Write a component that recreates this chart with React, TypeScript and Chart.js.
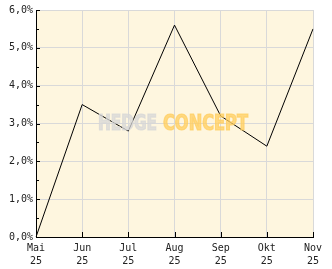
import React, { useEffect, useRef } from "react";
import { Chart, registerables } from "chart.js";

Chart.register(...registerables);

const months = ["Mai", "Jun", "Jul", "Aug", "Sep", "Okt", "Nov"];
const years = ["25", "25", "25", "25", "25", "25", "25"];
const values = [0.0, 3.5, 2.8, 5.6, 3.2, 2.4, 5.5];
const yMin = 0;
const yMax = 6;
const yStep = 1;
const minorStep = 0.5;

const FONT = '"DejaVu Sans Mono", monospace';

const decorPlugin = {
  id: "decor",
  beforeDraw(chart: any) {
    const { ctx, chartArea } = chart;
    ctx.save();
    ctx.fillStyle = "#ffffff";
    ctx.fillRect(0, 0, chart.width, chart.height);
    ctx.fillStyle = "#fef6df";
    ctx.fillRect(chartArea.left, chartArea.top, chartArea.right - chartArea.left, chartArea.bottom - chartArea.top);
    ctx.restore();
  },
  afterDraw(chart: any) {
    const { ctx, chartArea, scales } = chart;
    const xs = scales.x;
    const ys = scales.y;
    ctx.save();
    // watermark
    const baseY = 130;
    const drawFit = (text: string, x0: number, x1: number, color: string) => {
      ctx.font = 'bold 21px "DejaVu Sans Condensed", "DejaVu Sans", sans-serif';
      const w = ctx.measureText(text).width;
      ctx.save();
      ctx.translate(x0, baseY);
      ctx.scale((x1 - x0) / w, 1);
      ctx.fillStyle = color;
      ctx.strokeStyle = color;
      ctx.lineWidth = 1.2;
      ctx.textBaseline = "alphabetic";
      ctx.textAlign = "left";
      ctx.fillText(text, 0, 0);
      ctx.strokeText(text, 0, 0);
      ctx.restore();
    };
    drawFit("HEDGE", 98, 157, "rgba(215,215,215,0.75)");
    drawFit("CONCEPT", 163, 248, "rgba(255,205,95,0.75)");
    // inward ticks
    ctx.strokeStyle = "#000000";
    ctx.lineWidth = 1;
    ctx.beginPath();
    for (let v = yMin; v <= yMax + 1e-9; v += minorStep) {
      const y = Math.round(ys.getPixelForValue(v)) + 0.5;
      const len = Math.abs(v - Math.round(v)) < 1e-9 ? 4 : 3;
      ctx.moveTo(chartArea.left, y);
      ctx.lineTo(chartArea.left + len, y);
    }
    for (let i = 0; i < months.length; i++) {
      const x = Math.round(xs.getPixelForValue(i)) + 0.5;
      ctx.moveTo(x, chartArea.bottom);
      ctx.lineTo(x, chartArea.bottom - 5);
    }
    ctx.stroke();
    ctx.restore();
  },
};

export default function App() {
  const ref = useRef<HTMLCanvasElement>(null);
  useEffect(() => {
    document.body.style.margin = "0";
    const labels = months.map((m, i) => [m, years[i]]);
    const chart = new Chart(ref.current!, {
      type: "line",
      data: {
        labels,
        datasets: [
          {
            data: values,
            borderColor: "#000000",
            borderWidth: 1,
            pointRadius: 0,
            tension: 0,
            fill: false,
          },
        ],
      },
      options: {
        animation: false,
        responsive: false,
        maintainAspectRatio: false,
        layout: { padding: { top: 10, right: 19, left: 0, bottom: 0 } },
        plugins: { legend: { display: false }, tooltip: { enabled: false } },
        scales: {
          x: {
            offset: false,
            grid: { color: "#d9d9d9", drawTicks: false, lineWidth: 1 },
            border: { color: "#000000", width: 1 },
            ticks: {
              color: "#222222",
              font: { family: FONT, size: 10, lineHeight: 1.3 },
              padding: 5,
              maxRotation: 0,
              autoSkip: false,
            },
            afterFit: (s: any) => {
              s.height = 32;
            },
          },
          y: {
            min: yMin,
            max: yMax,
            grid: { color: "#d9d9d9", drawTicks: false, lineWidth: 1 },
            border: { color: "#000000", width: 1 },
            ticks: {
              stepSize: yStep,
              color: "#222222",
              font: { family: FONT, size: 10 },
              padding: 3,
              callback: (v: any) => Number(v).toFixed(1).replace(".", ",") + "%",
            },
            afterFit: (s: any) => {
              s.width = 36;
            },
          },
        },
      },
      plugins: [decorPlugin],
    });
    return () => chart.destroy();
  }, []);
  return (
    <div style={{ width: 332, height: 269 }}>
      <canvas ref={ref} width={332} height={269} style={{ width: 332, height: 269, display: "block" }} />
    </div>
  );
}
